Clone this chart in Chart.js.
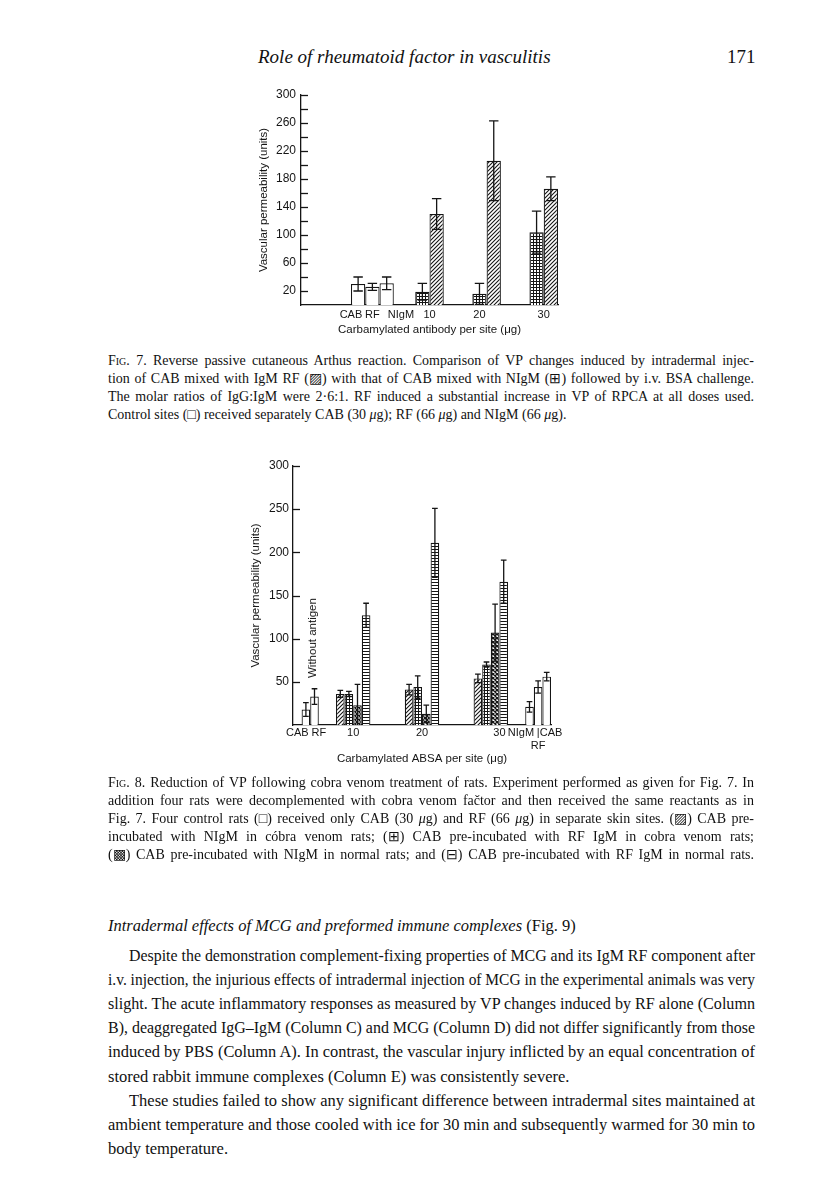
<!DOCTYPE html>
<html>
<head>
<meta charset="utf-8">
<script src="https://cdn.jsdelivr.net/npm/chart.js@4.4.0/dist/chart.umd.min.js"></script>
<style>
html, body { margin: 0; padding: 0; background: #fff; }
body { width: 816px; height: 1177px; position: relative; overflow: hidden; font-family: 'Liberation Serif', serif; color: #111; }
.ln { position: absolute; white-space: nowrap; }
.sc { font-variant: small-caps; }
canvas { position: absolute; }
.side { position: absolute; font-family: 'Liberation Sans', sans-serif; font-size: 11.5px; white-space: nowrap; color: #111;
        transform: translate(-50%, -50%) rotate(-90deg); }
</style>
</head>
<body>
<canvas id="fig7" width="385" height="265" style="left:215px;top:80px"></canvas>
<canvas id="fig8" width="390" height="330" style="left:205px;top:450px"></canvas>
<div class="side" style="left:312px;top:638px">Without antigen</div>
<script>
// ---- Fig. 7 data (RPCA, normal rats) ----
const fig7Bars = ['CAB', 'RF', 'NIgM', 'NIgM 10', 'RF 10', 'NIgM 20', 'RF 20', 'NIgM 30', 'RF 30'];
const fig7Values = [30, 26, 31, 19, 130, 16, 206, 104, 166];
const fig7Errors = [10, 5, 9, 12, 22, 15, 57, 30, 17];
const fig7Ticks = ['CAB', 'RF', 'NIgM', '10', '20', '30'];

// ---- Fig. 8 data (cobra venom vs normal rats) ----
const fig8Bars = ['CAB', 'RF',
  'NIgM CVF 10', 'RF CVF 10', 'NIgM 10', 'RF 10',
  'NIgM CVF 20', 'RF CVF 20', 'NIgM 20', 'RF 20',
  'NIgM CVF 30', 'RF CVF 30', 'NIgM 30', 'RF 30',
  'NIgM', 'RF', 'CAB'];
const fig8Values = [18, 33, 36, 36, 23, 127, 41, 44, 13, 211, 54, 70, 107, 166, 21, 44, 56];
const fig8Errors = [8, 9, 4, 3, 24, 14, 6, 13, 10, 40, 5, 3, 33, 25, 6, 7, 5];
const fig8Ticks = ['CAB', 'RF', '10', '20', '30', 'NIgM', ['|', 'RF'], 'CAB'];

// layout: category slot of each bar / tick label, and fill of each bar
const fig7Slots = { n: 37, bars: [8, 10, 12, 17, 19, 25, 27, 33, 35], ticks: [7, 10, 14, 18, 25, 34] };
const fig7Fill = ['white', 'white', 'white', 'grid', 'hatch', 'grid', 'hatch', 'grid', 'hatch'];
const fig8Slots = { n: 61, bars: [3, 5, 11, 13, 15, 17, 27, 29, 31, 33, 43, 45, 47, 49, 55, 57, 59],
                    ticks: [1, 6, 14, 30, 48, 53, 57, 60] };
const fig8Fill = ['white', 'white', 'hatch', 'grid', 'cross', 'hlines', 'hatch', 'grid', 'cross', 'hlines',
                  'hatch', 'grid', 'cross', 'hlines', 'white', 'white', 'white'];

const INK = '#151515';

function makeFill(kind) {
  if (kind === 'white') return '#fff';
  const c = document.createElement('canvas');
  const k = c.getContext('2d');
  if (kind === 'hatch') {
    c.width = c.height = 4;
    k.fillStyle = '#fff'; k.fillRect(0, 0, 4, 4);
    k.strokeStyle = INK; k.lineWidth = 1.1;
    k.beginPath();
    k.moveTo(-1, 5); k.lineTo(5, -1);
    k.moveTo(-1, 1); k.lineTo(1, -1);
    k.moveTo(3, 5); k.lineTo(5, 3);
    k.stroke();
  } else if (kind === 'grid') {
    c.width = c.height = 3;
    k.fillStyle = '#fff'; k.fillRect(0, 0, 3, 3);
    k.fillStyle = INK; k.fillRect(0, 0, 3, 1); k.fillRect(0, 0, 1, 3);
  } else if (kind === 'cross') {
    c.width = c.height = 4;
    k.fillStyle = '#fff'; k.fillRect(0, 0, 4, 4);
    k.strokeStyle = INK; k.lineWidth = 1.3;
    k.beginPath();
    k.moveTo(-1, 5); k.lineTo(5, -1);
    k.moveTo(-1, -1); k.lineTo(5, 5);
    k.stroke();
  } else if (kind === 'hlines') {
    c.width = 4; c.height = 3;
    k.fillStyle = '#fff'; k.fillRect(0, 0, 4, 3);
    k.fillStyle = INK; k.fillRect(0, 0, 4, 1);
  }
  return k.createPattern(c, 'repeat');
}

// error bars drawn through the y scale
const errorBars = {
  id: 'errorBars',
  afterDatasetsDraw(chart) {
    const { ctx, scales: { y } } = chart;
    const ds = chart.data.datasets[0];
    const meta = chart.getDatasetMeta(0);
    ctx.save();
    ctx.strokeStyle = INK;
    ctx.lineWidth = 1.3;
    meta.data.forEach((bar, i) => {
      const v = ds.data[i], e = ds.errors[i];
      if (v == null || !e) return;
      const top = y.getPixelForValue(v + e);
      const bot = y.getPixelForValue(Math.max(v - e, 0));
      const half = bar.width * 0.33;
      ctx.beginPath();
      ctx.moveTo(bar.x, top); ctx.lineTo(bar.x, bot);
      ctx.moveTo(bar.x - half, top); ctx.lineTo(bar.x + half, top);
      if (v - e > 0) { ctx.moveTo(bar.x - half, bot); ctx.lineTo(bar.x + half, bot); }
      ctx.stroke();
    });
    ctx.restore();
  }
};

// tick marks pointing into the plot
const innerTicks = {
  id: 'innerTicks',
  afterDraw(chart) {
    const { ctx, chartArea, scales: { y } } = chart;
    ctx.save();
    ctx.strokeStyle = INK;
    ctx.lineWidth = 1.3;
    y.ticks.forEach(t => {
      if (t.value <= 0) return;
      const py = Math.round(y.getPixelForValue(t.value)) + 0.5;
      ctx.beginPath();
      ctx.moveTo(chartArea.left, py);
      ctx.lineTo(chartArea.left + 7, py);
      ctx.stroke();
    });
    ctx.restore();
  }
};

Chart.defaults.font.family = "'Liberation Sans', sans-serif";
Chart.defaults.font.size = 11.5;
Chart.defaults.color = INK;

function barChart(id, bars, values, errors, fills, slots, ticks, opt) {
  const labels = new Array(slots.n).fill('');
  slots.ticks.forEach((s, i) => { labels[s] = ticks[i]; });
  const data = new Array(slots.n).fill(null);
  const errs = new Array(slots.n).fill(0);
  const bg = new Array(slots.n).fill('#fff');
  const names = new Array(slots.n).fill('');
  slots.bars.forEach((s, i) => {
    data[s] = values[i];
    errs[s] = errors[i];
    bg[s] = makeFill(fills[i]);
    names[s] = bars[i];
  });

  return new Chart(document.getElementById(id), {
    type: 'bar',
    data: {
      labels,
      datasets: [{
        data,
        errors: errs,
        names,
        backgroundColor: bg,
        borderColor: INK,
        borderWidth: 1.2,
        categoryPercentage: 1,
        barPercentage: 2,
      }]
    },
    options: {
      responsive: false,
      animation: false,
      layout: { padding: opt.padding },
      plugins: { legend: { display: false }, tooltip: { enabled: false } },
      scales: {
        x: {
          type: 'category',
          offset: false,
          grid: { display: false, drawTicks: false },
          border: { color: INK, width: 1.3 },
          ticks: { autoSkip: false, maxRotation: 0, minRotation: 0, padding: opt.xPad, font: { size: 11 } },
          title: { display: true, text: opt.xTitle, padding: { top: 0, bottom: opt.xTitlePad } },
          afterFit(s) { s.height = opt.xHeight; }
        },
        y: {
          min: 0,
          max: 300,
          grid: { display: false, drawTicks: false },
          border: { color: INK, width: 1.3 },
          ticks: { stepSize: opt.step, autoSkip: false, padding: opt.yPad, callback: opt.yLabel, font: { size: 12 } },
          title: { display: true, text: 'Vascular permeability (units)', padding: { top: opt.yTitlePad, bottom: 0 } },
          afterFit(s) { s.width = opt.yWidth; }
        }
      }
    },
    plugins: [errorBars, innerTicks]
  });
}

barChart('fig7', fig7Bars, fig7Values, fig7Errors, fig7Fill, fig7Slots, fig7Ticks, {
  padding: { left: 0, top: 15, right: 42, bottom: 0 },
  xHeight: 40, xPad: 3, xTitlePad: 8, xTitle: 'Carbamylated antibody per site (\u03bcg)',
  yWidth: 86, yPad: 5, yTitlePad: 42, step: 20,
  yLabel: v => (v > 0 && (v - 20) % 40 === 0) ? v : ''
});

barChart('fig8', fig8Bars, fig8Values, fig8Errors, fig8Fill, fig8Slots, fig8Ticks, {
  padding: { left: 0, top: 16, right: 44, bottom: 0 },
  xHeight: 55, xPad: 1, xTitlePad: 14, xTitle: 'Carbamylated ABSA per site (\u03bcg)',
  yWidth: 88, yPad: 4, yTitlePad: 44, step: 50,
  yLabel: v => v > 0 ? v : ''
});

// ---- page text ----
const mu = '<i>\u03bc</i>g';
const runningHead = '<i>Role of rheumatoid factor in vasculitis</i>';
const pageNo = '171';
const fig7Caption = [
  '<span class="sc">Fig. 7.</span> Reverse passive cutaneous Arthus reaction. Comparison of VP changes induced by intradermal injec-',
  'tion of CAB mixed with IgM RF (\u25a8) with that of CAB mixed with NIgM (\u229e) followed by i.v. BSA challenge.',
  'The molar ratios of IgG:IgM were 2\u00b76:1. RF induced a substantial increase in VP of RPCA at all doses used.',
  'Control sites (\u25a1) received separately CAB (30 ' + mu + '); RF (66 ' + mu + ') and NIgM (66 ' + mu + ').'
];
const fig8Caption = [
  '<span class="sc">Fig. 8.</span> Reduction of VP following cobra venom treatment of rats. Experiment performed as given for Fig. 7. In',
  'addition four rats were decomplemented with cobra venom fa\u010dtor and then received the same reactants as in',
  'Fig. 7. Four control rats (\u25a1) received only CAB (30 ' + mu + ') and RF (66 ' + mu + ') in separate skin sites. (\u25a8) CAB pre-',
  'incubated with NIgM in c\u00f3bra venom rats; (\u229e) CAB pre-incubated with RF IgM in cobra venom rats;',
  '(\u25a9) CAB pre-incubated with NIgM in normal rats; and (\u229f) CAB pre-incubated with RF IgM in normal rats.'
];
const heading = '<i>Intradermal effects of MCG and preformed immune complexes</i> (Fig. 9)';
const bodyText = [
  'Despite the demonstration complement-fixing properties of MCG and its IgM RF component after',
  'i.v. injection, the injurious effects of intradermal injection of MCG in the experimental animals was very',
  'slight. The acute inflammatory responses as measured by VP changes induced by RF alone (Column',
  'B), deaggregated IgG\u2013IgM (Column C) and MCG (Column D) did not differ significantly from those',
  'induced by PBS (Column A). In contrast, the vascular injury inflicted by an equal concentration of',
  'stored rabbit immune complexes (Column E) was consistently severe.',
  'These studies failed to show any significant difference between intradermal sites maintained at',
  'ambient temperature and those cooled with ice for 30 min and subsequently warmed for 30 min to',
  'body temperature.'
];
const bodyIndent = [true, false, false, false, false, false, true, false, false];
const bodyJustify = [true, true, true, true, true, false, true, true, false];

function putLine(html, left, centerY, size, lh, width) {
  const d = document.createElement('div');
  d.className = 'ln';
  d.innerHTML = html;
  d.style.left = left + 'px';
  d.style.top = (centerY - lh / 2) + 'px';
  d.style.fontSize = size + 'px';
  d.style.lineHeight = lh + 'px';
  document.body.appendChild(d);
  if (width) {
    const nat = d.getBoundingClientRect().width;
    const gaps = (d.textContent.match(/ /g) || []).length;
    if (nat > width) {
      d.style.transformOrigin = '0 0';
      d.style.transform = 'scaleX(' + (width / nat) + ')';
    } else if (gaps) {
      d.style.wordSpacing = ((width - nat) / gaps) + 'px';
    }
  }
  return d;
}

putLine(runningHead, 258, 57, 19, 22);
putLine(pageNo, 727, 57, 19, 22);
fig7Caption.forEach((t, i) => putLine(t, 108, 360.5 + i * 18, 14, 18, i < 3 ? 646 : 0));
fig8Caption.forEach((t, i) => putLine(t, 108, 782.5 + i * 18, 14, 18, 646));
putLine(heading, 108, 926, 16.5, 22);
bodyText.forEach((t, i) => {
  const ind = bodyIndent[i] ? 21 : 0;
  putLine(t, 108 + ind, 956 + i * 24.1, 16.5, 22, bodyJustify[i] ? 647 - ind : 0);
});
</script>
</body>
</html>
